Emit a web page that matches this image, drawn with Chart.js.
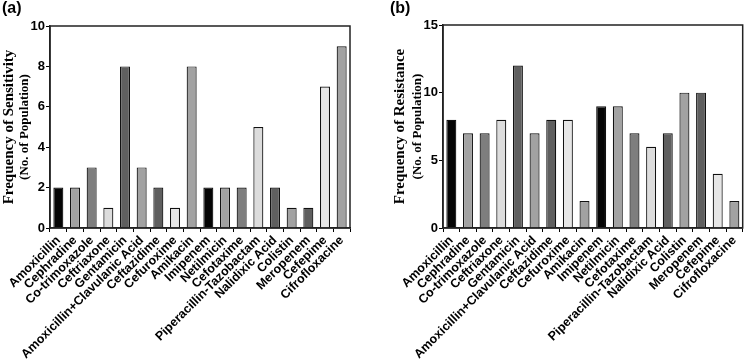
<!DOCTYPE html>
<html>
<head>
<meta charset="utf-8">
<script src="https://cdn.jsdelivr.net/npm/chart.js@4"></script>
<style>
  html, body { margin: 0; padding: 0; background: #fff; }
  #wrap { position: relative; width: 746px; height: 359px; overflow: hidden; }
  canvas { position: absolute; top: 0; }
  #chartA { left: 0; }
  #chartB { left: 373px; }
</style>
</head>
<body>
<div id="wrap">
  <canvas id="chartA" width="373" height="359"></canvas>
  <canvas id="chartB" width="373" height="359"></canvas>
</div>
<script>
// antibiotics, same order in both panels
const categories = [
  'Amoxicillin', 'Cephradine', 'Co-trimoxazole', 'Ceftriaxone', 'Gentamicin',
  'Amoxicillin+Clavulanic Acid', 'Ceftazidime', 'Cefuroxime', 'Amikacin',
  'Imipenem', 'Netilmicin', 'Cefotaxime', 'Piperacillin-Tazobactam',
  'Nalidixic Acid', 'Colistin', 'Meropenem', 'Cefepime', 'Cifrofloxacine'
];
const sensitivity = [2, 2, 3, 1, 8, 3, 2, 1, 8, 2, 2, 2, 5, 2, 1, 1, 7, 9];
const resistance  = [8, 7, 7, 8, 12, 7, 8, 8, 2, 9, 9, 7, 6, 7, 10, 10, 4, 2];
const sensTicks = [0, 2, 4, 6, 8, 10];
const resTicks  = [0, 5, 10, 15];
const barColors = [
  '#050505', '#a2a2a2', '#7e7e7e', '#dcdcdc', '#5f5f5f', '#a2a2a2', '#5f5f5f', '#e6e6e6', '#a2a2a2',
  '#050505', '#a2a2a2', '#7e7e7e', '#dcdcdc', '#5f5f5f', '#a2a2a2', '#5f5f5f', '#e6e6e6', '#a2a2a2'
];

// frame, panel letter and two-line y title
const decor = {
  id: 'decor',
  afterDraw(chart, args, o) {
    const { ctx, chartArea: a } = chart;
    ctx.save();
    ctx.strokeStyle = '#222';
    ctx.lineWidth = 1.5;
    ctx.strokeRect(a.left, a.top, a.right - a.left, a.bottom - a.top);

    ctx.fillStyle = '#000';
    ctx.font = 'bold 16px "Liberation Sans", Arial, sans-serif';
    ctx.textBaseline = 'top';
    ctx.textAlign = 'left';
    ctx.fillText(o.letter, o.letterX, 1);

    const cy = (a.top + a.bottom) / 2;
    ctx.textAlign = 'center';
    ctx.textBaseline = 'middle';
    ctx.translate(o.titleX, cy);
    ctx.rotate(-Math.PI / 2);
    ctx.font = 'bold 15px "Liberation Serif", "Times New Roman", serif';
    ctx.fillText(o.title, 0, 0);
    ctx.font = 'bold 13px "Liberation Serif", "Times New Roman", serif';
    ctx.fillText('(No. of Population)', 0, o.subGap);
    ctx.restore();
  }
};

function makeChart(id, values, ticks, cfg) {
  const xFont = { family: '"Liberation Sans", Arial, sans-serif', weight: 'bold', size: 12.5 };
  const yFont = { family: '"Liberation Sans", Arial, sans-serif', weight: 'bold', size: 13 };
  return new Chart(document.getElementById(id), {
    type: 'bar',
    data: {
      labels: categories,
      datasets: [{
        data: values,
        backgroundColor: barColors,
        borderColor: '#111',
        borderWidth: 1.2,
        barPercentage: 0.6,
        categoryPercentage: 1
      }]
    },
    options: {
      responsive: false,
      animation: false,
      devicePixelRatio: 1,
      layout: { padding: { top: cfg.top, right: cfg.right, left: 0, bottom: 0 } },
      plugins: {
        legend: { display: false },
        tooltip: { enabled: false },
        decor: cfg.decor
      },
      scales: {
        x: {
          offset: true,
          grid: { drawOnChartArea: false, drawTicks: true, tickLength: 4, color: '#000', tickColor: '#000' },
          border: { color: '#222', width: 1.5 },
          ticks: { color: '#000', font: xFont, minRotation: 45, maxRotation: 45, autoSkip: false, padding: 1 },
          afterFit: s => { s.height = 359 - cfg.bottomY; }
        },
        y: {
          min: ticks[0],
          max: ticks[ticks.length - 1],
          afterBuildTicks: s => { s.ticks = ticks.map(v => ({ value: v })); },
          grid: { drawOnChartArea: false, drawTicks: true, tickLength: 4, color: '#000', tickColor: '#000' },
          border: { color: '#222', width: 1.5 },
          ticks: { color: '#000', font: yFont, padding: 1 },
          afterFit: s => { s.width = cfg.left; }
        }
      }
    },
    plugins: [decor]
  });
}

makeChart('chartA', sensitivity, sensTicks, {
  top: 26, right: 23, left: 50, bottomY: 228,
  decor: { letter: '(a)', letterX: 2, title: 'Frequency of Sensitivity', titleX: 9, subGap: 16 }
});
makeChart('chartB', resistance, resTicks, {
  top: 25, right: 1, left: 70, bottomY: 228,
  decor: { letter: '(b)', letterX: 17, title: 'Frequency of Resistance', titleX: 27, subGap: 18 }
});
</script>
</body>
</html>
